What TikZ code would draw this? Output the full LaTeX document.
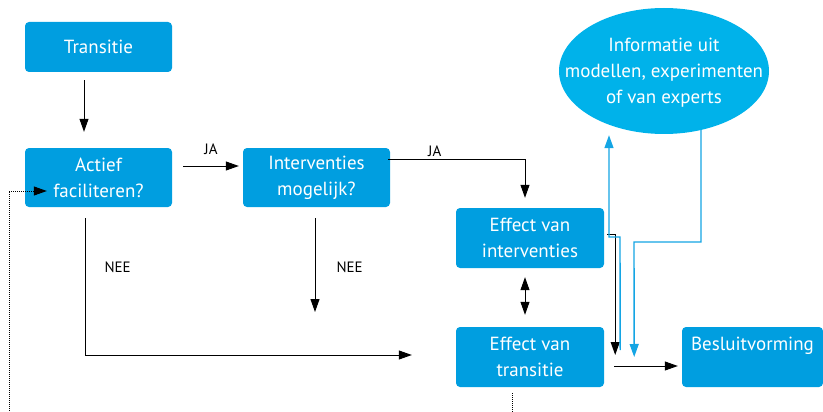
\documentclass[tikz,border=0pt]{standalone}
\usepackage{fontspec}
\setmainfont{PT Sans}
\usetikzlibrary{shapes.geometric,arrows.meta}
\definecolor{boxblue}{RGB}{0,158,224}
\definecolor{cloudblue}{RGB}{0,178,234}
\definecolor{lineblue}{RGB}{20,165,228}
\tikzset{
  stap/.style={fill=boxblue, rounded corners=4pt, text=white, align=center,
    font=\fontsize{19}{26}\selectfont, inner sep=0pt},
  wolk/.style={ellipse, fill=cloudblue, inner sep=0pt},
  wolktekst/.style={text=white, align=center, font=\fontsize{19}{26}\selectfont, inner sep=0pt},
  lbl/.style={font=\fontsize{15}{17}\selectfont, inner sep=0pt},
  pijl/.style={-{Triangle[length=13pt,width=9pt]}, line width=1pt},
  dubbelpijl/.style={{Triangle[length=13pt,width=9pt]}-{Triangle[length=13pt,width=9pt]}, line width=1pt},
  blauwpijl/.style={-{Triangle[length=13pt,width=9pt]}, line width=1.4pt, lineblue},
  stippel/.style={-{Triangle[length=13pt,width=9pt]}, densely dotted, line width=1pt}
}

\begin{document}
\begin{tikzpicture}[x=1pt,y=-1pt]
\useasboundingbox (0,0) rectangle (823,412);
\node[stap, minimum width=147pt, minimum height=50pt] (trans) at (98.5,47) {Transitie};
\node[stap, minimum width=147pt, minimum height=59pt] (actief) at (98.5,177.5) {Actief\\faciliteren?};
\node[stap, minimum width=147pt, minimum height=59pt] (interv) at (316.5,177.5) {Interventies\\mogelijk?};
\node[stap, minimum width=148pt, minimum height=60pt] (effint) at (530,238) {Effect van\\interventies};
\node[stap, minimum width=148pt, minimum height=60pt] (efftrans) at (530,357) {Effect van\\transitie};
\node[stap, minimum width=141pt, minimum height=60pt] (besluit) at (752.5,357) {Besluitvorming\\[-4pt]\phantom{g}};
\node[wolk, minimum width=210pt, minimum height=126pt] (info) at (664,71) {};
\node[wolktekst] (infotekst) at (664,72.5) {Informatie uit\\modellen, experimenten\\of van experts};

\coordinate (neeEind) at (315,312);
\coordinate (knikA) at (620,237);
\coordinate (knikB) at (609,237);
\coordinate (knikC) at (634,242);
\coordinate (onderM) at (512,425);
\coordinate (onderL) at (9,425);

\draw[pijl] ([xshift=-14.5pt,yshift=-8pt]trans.south) -- ([xshift=-14.5pt,yshift=16pt]actief.north);
\draw[pijl] ([xshift=11pt,yshift=11.5pt]actief.east) -- node[lbl,above=11pt]{JA} ([xshift=-4pt,yshift=11.5pt]interv.west);
\draw[pijl] ([xshift=-2pt,yshift=18.5pt]interv.east) -| node[lbl,pos=0.17,above=2pt]{JA} ([xshift=-5pt,yshift=10pt]effint.north);
\draw[pijl] ([xshift=-13.5pt,yshift=-11pt]actief.south) |- node[lbl,pos=0.18,right=19pt]{NEE} ([xshift=-44pt,yshift=2pt]efftrans.west);
\draw[pijl] ([xshift=-1.5pt,yshift=-11pt]interv.south) -- node[lbl,pos=0.52,right=21pt]{NEE} (neeEind);
\draw[dubbelpijl] ([xshift=-5pt,yshift=-9pt]effint.south) -- ([xshift=-5pt,yshift=12pt]efftrans.north);
\draw[pijl] ([xshift=3pt,yshift=4pt]effint.east) -| ([xshift=11pt,yshift=2pt]efftrans.east);
\draw[blauwpijl] ([xshift=16pt,yshift=7pt]efftrans.east) -- (knikA) -- (knikB) -- ([xshift=-55pt,yshift=-1pt]info.south);
\draw[blauwpijl] ([xshift=37pt,yshift=4pt]info.south) |- (knikC) -- ([xshift=30pt]efftrans.east);
\draw[pijl] ([xshift=10pt,yshift=-9pt]efftrans.east) -- ([xshift=-4pt,yshift=-9pt]besluit.west);
\draw[densely dotted, line width=1pt] ([xshift=-18pt,yshift=-6pt]efftrans.south) -- (onderM);
\draw[stippel] (onderL) |- ([xshift=22pt,yshift=-13.5pt]actief.west);
\end{tikzpicture}
\end{document}
